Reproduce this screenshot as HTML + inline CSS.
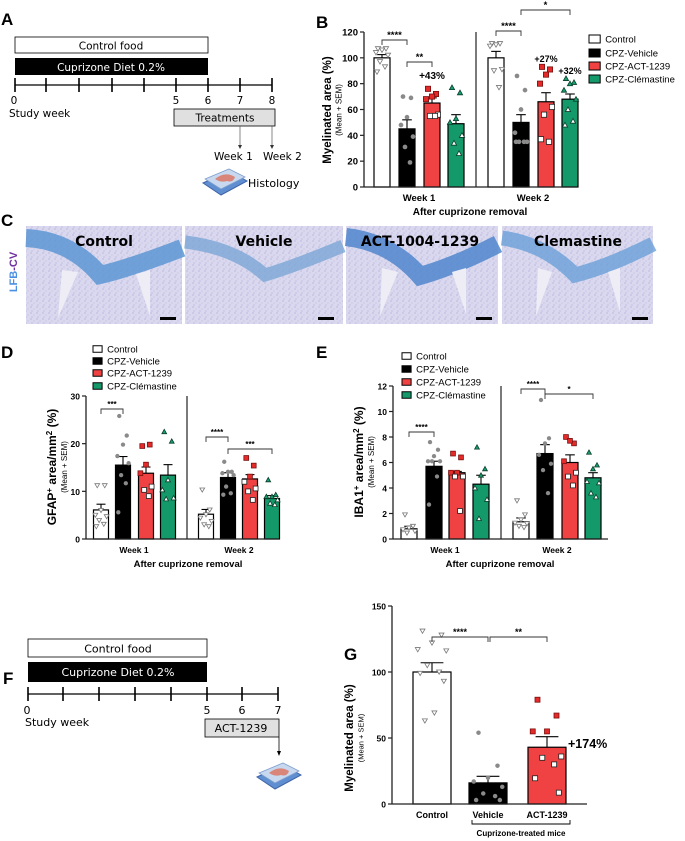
<!DOCTYPE html>
<html><head><meta charset="utf-8"><style>
html,body{margin:0;padding:0;background:#fff}
svg{display:block;font-family:"Liberation Sans",Arial,sans-serif}
.cal{font-family:"DejaVu Sans","Liberation Sans",sans-serif}
</style></head><body>
<svg id="fig" width="685" height="841" viewBox="0 0 685 841" xmlns="http://www.w3.org/2000/svg">
<defs>
<pattern id="tissue" width="6" height="6" patternUnits="userSpaceOnUse">
<rect width="6" height="6" fill="#d9d8ee"/>
<circle cx="1" cy="1" r="0.6" fill="#a9a4d4"/><circle cx="4" cy="3" r="0.5" fill="#b8b3dc"/><circle cx="2" cy="5" r="0.5" fill="#9f9acc"/>
</pattern>
<g id="histo-icon">
<polygon points="0,14 26,2 44,12 18,26" fill="#5f8fd0" stroke="#3f64a8" stroke-width="1"/>
<polygon points="2,10 26,0 42,8 18,20" fill="#c8d8ef" stroke="#7f9fcf" stroke-width="0.8"/>
<path d="M12,10 q10,-8 20,-2 q-2,6 -8,4 q-6,2 -12,-2z" fill="#d9857a"/>
</g>
</defs>

<g font-weight="bold" font-size="17" fill="#000">
<text x="1" y="25">A</text>
<text x="316" y="28">B</text>
<text x="1" y="226">C</text>
<text x="1" y="358">D</text>
<text x="316" y="358">E</text>
<text x="3" y="684">F</text>
<text x="344" y="660">G</text>
</g>

<g class="cal">
<rect x="15" y="37" width="193" height="16" fill="#fff" stroke="#000" stroke-width="0.8"/>
<text x="111" y="49.5" font-size="10.5" text-anchor="middle">Control food</text>
<rect x="15" y="58" width="193" height="17" fill="#000"/>
<text x="111" y="71" font-size="10.5" text-anchor="middle" fill="#fff">Cuprizone Diet 0.2%</text>
<line x1="15" y1="85" x2="272" y2="85" stroke="#000" stroke-width="1.3"/>
<g stroke="#000" stroke-width="1.6">
<line x1="15" y1="78" x2="15" y2="92"/><line x1="46" y1="78" x2="46" y2="92"/><line x1="79" y1="78" x2="79" y2="92"/><line x1="112" y1="78" x2="112" y2="92"/><line x1="144" y1="78" x2="144" y2="92"/><line x1="176" y1="78" x2="176" y2="92"/><line x1="208" y1="78" x2="208" y2="92"/><line x1="240" y1="78" x2="240" y2="92"/><line x1="272" y1="78" x2="272" y2="92"/>
</g>
<g font-size="10.5" text-anchor="middle">
<text x="14" y="104">0</text><text x="176" y="104">5</text><text x="208" y="104">6</text><text x="240" y="104">7</text><text x="272" y="104">8</text>
</g>
<text x="9" y="117" font-size="10.5">Study week</text>
<rect x="174" y="109" width="101" height="17" fill="#e0e0e0" stroke="#000" stroke-width="0.8"/>
<text x="225" y="121.5" font-size="10.5" text-anchor="middle">Treatments</text>
<line x1="240" y1="126" x2="240" y2="146" stroke="#555" stroke-width="0.7"/><polygon points="238,145 242,145 240,149" fill="#333"/>
<line x1="272" y1="126" x2="272" y2="146" stroke="#555" stroke-width="0.7"/><polygon points="270,145 274,145 272,149" fill="#333"/>
<text x="214" y="160" font-size="10.5">Week 1</text><text x="263" y="160" font-size="10.5">Week 2</text>
<use href="#histo-icon" x="203" y="169"/>
<text x="248" y="187" font-size="11">Histology</text>
</g>

<g>
<text transform="translate(17,272) rotate(-90)" font-size="11" font-weight="bold" text-anchor="middle"><tspan fill="#4a90e2">LFB</tspan><tspan fill="#7030a0">-CV</tspan></text>
<g>
<rect x="26" y="226" width="156" height="98" fill="url(#tissue)"/>
<path d="M26,238 Q70,240 100,275 Q130,268 182,248" fill="none" stroke="#5d96d4" stroke-width="18" opacity="0.85"/>
<polygon points="62,270 78,272 58,318" fill="#eeedf6"/><polygon points="136,274 150,270 150,316" fill="#eeedf6"/>
<rect x="160" y="317" width="16" height="3" fill="#000"/>
<text x="104" y="246" font-size="14" font-weight="bold" text-anchor="middle" class="cal">Control</text>
</g>
<g>
<rect x="185" y="226" width="158" height="98" fill="url(#tissue)"/>
<path d="M185,242 Q235,248 265,275 Q295,266 343,246" fill="none" stroke="#7aa6d6" stroke-width="13" opacity="0.8"/>
<rect x="318" y="317" width="16" height="3" fill="#000"/>
<text x="264" y="246" font-size="14" font-weight="bold" text-anchor="middle" class="cal">Vehicle</text>
</g>
<g>
<rect x="346" y="226" width="152" height="98" fill="url(#tissue)"/>
<path d="M346,237 Q390,242 420,276 Q455,266 498,244" fill="none" stroke="#4f86cc" stroke-width="18" opacity="0.85"/>
<polygon points="382,268 398,272 380,316" fill="#eeedf6"/><polygon points="452,272 466,268 466,314" fill="#eeedf6"/>
<rect x="476" y="317" width="16" height="3" fill="#000"/>
<text x="420" y="246" font-size="14" font-weight="bold" text-anchor="middle" class="cal">ACT-1004-1239</text>
</g>
<g>
<rect x="502" y="226" width="151" height="98" fill="url(#tissue)"/>
<path d="M502,238 Q545,244 575,275 Q610,266 653,244" fill="none" stroke="#6aa0d8" stroke-width="15" opacity="0.8"/>
<polygon points="538,268 552,272 536,316" fill="#eeedf6"/><polygon points="608,272 620,268 620,312" fill="#eeedf6"/>
<rect x="632" y="317" width="16" height="3" fill="#000"/>
<text x="578" y="246" font-size="14" font-weight="bold" text-anchor="middle" class="cal">Clemastine</text>
</g>
</g>

<g class="cal">
<rect x="28" y="639" width="179" height="18" fill="#fff" stroke="#000" stroke-width="0.8"/>
<text x="118" y="652.5" font-size="11" text-anchor="middle">Control food</text>
<rect x="28" y="662" width="179" height="20" fill="#000"/>
<text x="118" y="676" font-size="11" text-anchor="middle" fill="#fff">Cuprizone Diet 0.2%</text>
<line x1="28" y1="694" x2="278" y2="694" stroke="#000" stroke-width="1.3"/>
<g stroke="#000" stroke-width="1.6">
<line x1="28" y1="687" x2="28" y2="701"/><line x1="63" y1="687" x2="63" y2="701"/><line x1="99" y1="687" x2="99" y2="701"/><line x1="135" y1="687" x2="135" y2="701"/><line x1="171" y1="687" x2="171" y2="701"/><line x1="207" y1="687" x2="207" y2="701"/><line x1="242" y1="687" x2="242" y2="701"/><line x1="278" y1="687" x2="278" y2="701"/>
</g>
<g font-size="11" text-anchor="middle">
<text x="27" y="714">0</text><text x="207" y="714">5</text><text x="242" y="714">6</text><text x="278" y="714">7</text>
</g>
<text x="25" y="726" font-size="11">Study week</text>
<rect x="205" y="719" width="74" height="18" fill="#e0e0e0" stroke="#000" stroke-width="0.8"/>
<text x="241" y="732" font-size="11" text-anchor="middle">ACT-1239</text>
<line x1="279" y1="737" x2="279" y2="752" stroke="#000" stroke-width="0.8"/><polygon points="277,751 281,751 279,756" fill="#000"/>
<use href="#histo-icon" x="257" y="763"/>
</g>

<g id="charts"></g>
</svg>

<script>
// ===== Panel B data (Myelinated area %) =====
var bGroups = ["W1-Control","W1-Vehicle","W1-ACT","W1-Clem","W2-Control","W2-Vehicle","W2-ACT","W2-Clem"];
var bMeans = [100, 45, 65, 49, 100, 50, 66, 68];
var bErrTop = [102.5, 52, 69, 56, 105, 56, 73, 72];
var bPts0 = [107,107,106,104,102,97,93,89];
var bPts1 = [70,69,54,48,39,31,19];
var bPts2 = [76,72,70,68,56,55,55];
var bPts3 = [77,73,53,50,40,34,26];
var bPts4 = [111,111,110,109,91,90,77];
var bPts5 = [86,75,60,42,35,35,35,35];
var bPts6 = [93,91,87,80,62,56,35,37];
var bPts7 = [84,81,80,75,68,60,51,48];
var bTicks = [0,20,40,60,80,100,120];

// ===== Panel D data (GFAP) =====
var dMeans = [6.1, 15.5, 13.8, 13.4, 5.2, 12.9, 12.6, 8.5];
var dErrTop = [7.3, 17.3, 15.1, 15.6, 6.2, 13.9, 13.5, 9.1];
var dPts0 = [11.2,11.2,6,5,4.7,3.9,3.1,2.6];
var dPts1 = [25.8,21.7,19.8,17.4,15.9,13.4,11.7,5.6];
var dPts2 = [19.5,19.8,15.6,13.8,11,10.3,9];
var dPts3 = [22.5,20.5,12.4,10.3,8.6,8.4];
var dPts4 = [10.3,6.1,5.1,4.4,3.7,3,2.6];
var dPts5 = [16.2,14.1,14.1,13.8,13.4,11,9.6,9.3];
var dPts6 = [17,15.4,13.1,12,10.6,10,8.2];
var dPts7 = [12.4,9.3,8.9,8.9,8.2,7.5,7.2];
var dTicks = [0,10,20,30];

// ===== Panel E data (IBA1) =====
var eMeans = [0.8, 5.7, 5.2, 4.3, 1.35, 6.7, 6.0, 4.8];
var eErrTop = [1.0, 6.1, 5.3, 5.0, 1.65, 7.4, 6.6, 5.2];
var ePts0 = [1.9,1,0.86,0.73,0.6,0.47];
var ePts1 = [7.6,7,6.5,6.1,6.1,6.1,4.9,2.7];
var ePts2 = [6.7,6.4,5.2,5.2,4.9,4.9,2.2];
var ePts3 = [7.2,5.5,5,4,3.1,1.6];
var ePts4 = [3,1.9,1.5,1.25,1.2,1,0.9];
var ePts5 = [10.9,7.9,7.5,6.6,5.9,5.4,3.6];
var ePts6 = [8,7.5,7.7,6.1,5.2,4.9,4.2];
var ePts7 = [6.8,5.8,5.5,4.5,4.4,3.6,3.3];
var eTicks = [0,2,4,6,8,10,12];

// ===== Panel G data =====
var gCategories = ["Control","Vehicle","ACT-1239"];
var gMeans = [100, 16, 43];
var gErrTop = [107, 21, 51];
var gPts0 = [131,128,122,117,116,105,100,99,93,69,63];
var gPts1 = [54,29,20,17,13,8,6,3,3];
var gPts2 = [79,67,55,55,36,35,30,19.5,8.6];
var gTicks = [0,50,100,150];

var NS = "http://www.w3.org/2000/svg";
var root = document.getElementById("charts");
function mk(tag, attrs, parent) {
  var e = document.createElementNS(NS, tag);
  for (var k in attrs) e.setAttribute(k, attrs[k]);
  (parent || root).appendChild(e);
  return e;
}
function txt(x, y, s, size, opts, parent) {
  var a = {x:x, y:y, "font-size":size};
  for (var k in (opts||{})) a[k] = opts[k];
  var t = mk("text", a, parent);
  t.textContent = s;
  return t;
}
var FILLS = ["#ffffff","#000000","#f04242","#13996a"];
var JIT = [-4,4,0,-6,6,-2,3,-5,5,1,-3];

function marker(g, kind, cx, cy, sz, inside) {
  var m;
  if (kind === 0) {
    m = mk("polygon", {points:(cx-sz)+","+(cy-sz*0.8)+" "+(cx+sz)+","+(cy-sz*0.8)+" "+cx+","+(cy+sz*0.9), fill:"#fff", stroke:"#777", "stroke-width":0.8}, g);
  } else if (kind === 1) {
    m = mk("circle", {cx:cx, cy:cy, r:sz*0.9, fill:"#8a8a8a"}, g);
  } else if (kind === 2) {
    m = mk("rect", {x:cx-sz, y:cy-sz, width:sz*2, height:sz*2, fill: inside ? "#fff" : "#e52a2a", stroke: inside ? "#222" : "#7a1010", "stroke-width":0.8}, g);
  } else {
    m = mk("polygon", {points:(cx-sz)+","+(cy+sz*0.8)+" "+(cx+sz)+","+(cy+sz*0.8)+" "+cx+","+(cy-sz*1.0), fill: inside ? "#fff" : "#15a070", stroke:"#0b3d2a", "stroke-width":0.8}, g);
  }
  return m;
}

function panel(cfg) {
  var g = mk("g", {});
  
  
  var y = function(v){ return cfg.y0 - v * (cfg.y0 - cfg.yTop) / cfg.vmax; };
  for (var i = 0; i < cfg.means.length; i++) {
    var cx = cfg.centers[i], ci = cfg.colorIdx[i];
    var by = y(cfg.means[i]);
    var bar = mk("rect", {x:cx-cfg.bw/2, y:by, width:cfg.bw, height:cfg.y0-by, fill:FILLS[ci], stroke:"#000", "stroke-width":1.2}, g);
    
    
    var ey = y(cfg.errTop[i]);
    mk("line", {x1:cx, y1:by, x2:cx, y2:ey, stroke:"#000", "stroke-width":1.1}, g);
    mk("line", {x1:cx-cfg.bw*0.3, y1:ey, x2:cx+cfg.bw*0.3, y2:ey, stroke:"#000", "stroke-width":1.1}, g);
    var pts = cfg.points[i];
    for (var j = 0; j < pts.length; j++) {
      var py = y(pts[j]);
      var pt = marker(g, ci, cx + JIT[j % JIT.length]*cfg.bw/16, py, cfg.ms, pts[j] < cfg.means[i]);
      
      
    }
  }
  var ya = mk("line", {x1:cfg.x0, y1:cfg.yTop, x2:cfg.x0, y2:cfg.y0, stroke:"#222", "stroke-width":1.3}, g);
  
  
  var xa = mk("line", {x1:cfg.x0, y1:cfg.y0, x2:cfg.xEnd, y2:cfg.y0, stroke:"#222", "stroke-width":1.3}, g);
  
  
  for (var t = 0; t < cfg.ticks.length; t++) {
    var ty = y(cfg.ticks[t]);
    mk("line", {x1:cfg.x0-4, y1:ty, x2:cfg.x0, y2:ty, stroke:"#222", "stroke-width":1.2}, g);
    var tl = txt(cfg.x0-6, ty+3.5, String(cfg.ticks[t]), cfg.tickSize, {"text-anchor":"end","font-weight":"bold"}, g);
    
    
  }
  if (cfg.divider) mk("line", {x1:cfg.divider, y1:cfg.yTop, x2:cfg.divider, y2:cfg.y0, stroke:"#222", "stroke-width":1.2}, g);
  return {g:g, y:y};
}
function bracket(g, x1, x2, yy, label, size) {
  var p = mk("path", {d:"M"+x1+","+(yy+5)+" V"+yy+" H"+x2+" V"+(yy+5), fill:"none", stroke:"#333", "stroke-width":0.9}, g);
  
  
  var t = txt((x1+x2)/2, yy-2, label, size, {"text-anchor":"middle","font-weight":"bold"}, g);
  
  
}
function legend(g, x, ys, size, sq) {
  var names = ["Control","CPZ-Vehicle","CPZ-ACT-1239","CPZ-Clémastine"];
  for (var i = 0; i < 4; i++) {
    var r = mk("rect", {x:x, y:ys[i]-sq/2, width:sq*1.4, height:sq, fill:FILLS[i], stroke:"#000", "stroke-width":1}, g);
    
    
    var t = txt(x+sq*1.4+5, ys[i]+size*0.36, names[i], size, {}, g);
    
    
  }
}
function ytitle(g, x, yc, main, sub, mainSize, subSize) {
  var t = mk("text", {transform:"translate("+x+","+yc+") rotate(-90)", "text-anchor":"middle", "font-size":mainSize, "font-weight":"bold"}, g);
  
  
  t.innerHTML = main;
  var s = txt(0, 0, sub, subSize, {transform:"translate("+(x+mainSize*0.9)+","+yc+") rotate(-90)", "text-anchor":"middle"}, g);
  
  
}
var CI = [0,1,2,3,0,1,2,3];

// ---- Panel B ----
var B = panel({name:"panel-b-myelination-chart", means:bMeans, errTop:bErrTop, points:[bPts0,bPts1,bPts2,bPts3,bPts4,bPts5,bPts6,bPts7],
  labels:bGroups, centers:[382,407,432,456,496,521,546,570], colorIdx:CI, bw:16, x0:364, xEnd:577, y0:187, yTop:32, vmax:120,
  ticks:bTicks, tickSize:9.5, ms:2.6, divider:476});
bracket(B.g, 382, 407, 40, "****", 9.5);
bracket(B.g, 407, 432, 62, "**", 9.5);
bracket(B.g, 521, 570, 10, "*", 9.5);
bracket(B.g, 496, 521, 31, "****", 9.5);
txt(432, 79, "+43%", 10, {"text-anchor":"middle","font-weight":"bold"}, B.g);
txt(546, 62, "+27%", 9, {"text-anchor":"middle","font-weight":"bold"}, B.g);
txt(570, 74, "+32%", 9, {"text-anchor":"middle","font-weight":"bold"}, B.g);
legend(B.g, 589, [39,53,66,79], 9.5, 8);
ytitle(B.g, 331, 110, "Myelinated area (%)", "(Mean + SEM)", 11.5, 8);
txt(419, 201, "Week 1", 9.5, {"text-anchor":"middle","font-weight":"bold"}, B.g);
txt(533, 201, "Week 2", 9.5, {"text-anchor":"middle","font-weight":"bold"}, B.g);
txt(470, 215, "After cuprizone removal", 10, {"text-anchor":"middle","font-weight":"bold"}, B.g);

// ---- Panel D ----
var D = panel({name:"panel-d-gfap-chart", means:dMeans, errTop:dErrTop, points:[dPts0,dPts1,dPts2,dPts3,dPts4,dPts5,dPts6,dPts7],
  labels:bGroups, centers:[101,123,146,168,206,228,250,272], colorIdx:CI, bw:15, x0:86, xEnd:279, y0:539, yTop:396, vmax:30,
  ticks:dTicks, tickSize:8.5, ms:2.4, divider:187});
bracket(D.g, 101, 123, 409, "***", 8);
bracket(D.g, 206, 228, 437, "****", 8);
bracket(D.g, 228, 272, 449, "***", 8);
legend(D.g, 93, [349,361,373,386], 9.5, 6.5);
ytitle(D.g, 56, 467, "GFAP<tspan dy='-4' font-size='8'>+</tspan><tspan dy='4'> area/mm</tspan><tspan dy='-4' font-size='8'>2</tspan><tspan dy='4'> (%)</tspan>", "(Mean + SEM)", 12, 8);
txt(134, 553, "Week 1", 8.5, {"text-anchor":"middle","font-weight":"bold"}, D.g);
txt(239, 553, "Week 2", 8.5, {"text-anchor":"middle","font-weight":"bold"}, D.g);
txt(188, 567, "After cuprizone removal", 9.5, {"text-anchor":"middle","font-weight":"bold"}, D.g);

// ---- Panel E ----
var E = panel({name:"panel-e-iba1-chart", means:eMeans, errTop:eErrTop, points:[ePts0,ePts1,ePts2,ePts3,ePts4,ePts5,ePts6,ePts7],
  labels:bGroups, centers:[409,434,457,481,521,545,570,593], colorIdx:CI, bw:16, x0:393, xEnd:608, y0:539, yTop:386, vmax:12,
  ticks:eTicks, tickSize:8.5, ms:2.4, divider:501});
bracket(E.g, 409, 434, 432, "****", 8);
bracket(E.g, 521, 545, 389, "****", 8);
bracket(E.g, 545, 593, 394, "*", 8);
legend(E.g, 402, [356,369,382,395], 9.5, 6.5);
ytitle(E.g, 363, 462, "IBA1<tspan dy='-4' font-size='8'>+</tspan><tspan dy='4'> area/mm</tspan><tspan dy='-4' font-size='8'>2</tspan><tspan dy='4'> (%)</tspan>", "(Mean + SEM)", 12, 8);
txt(445, 553, "Week 1", 8.5, {"text-anchor":"middle","font-weight":"bold"}, E.g);
txt(557, 553, "Week 2", 8.5, {"text-anchor":"middle","font-weight":"bold"}, E.g);
txt(500, 567, "After cuprizone removal", 9.5, {"text-anchor":"middle","font-weight":"bold"}, E.g);

// ---- Panel G ----
var G = panel({name:"panel-g-myelination-chart", means:gMeans, errTop:gErrTop, points:[gPts0,gPts1,gPts2],
  labels:gCategories, centers:[432,488,547], colorIdx:[0,1,2], bw:38, x0:392, xEnd:587, y0:804, yTop:606, vmax:150,
  ticks:gTicks, tickSize:8.5, ms:2.5, divider:0});
bracket(G.g, 432, 488, 637, "****", 9);
bracket(G.g, 490, 547, 637, "**", 9);
txt(568, 748, "+174%", 12.5, {"font-weight":"bold"}, G.g);
ytitle(G.g, 353, 738, "Myelinated area (%)", "(Mean + SEM)", 11.5, 7.5);
for (var c = 0; c < gCategories.length; c++) {
  var xl = txt([432,488,547][c], 818, gCategories[c], 9, {"text-anchor":"middle","font-weight":"bold"}, G.g);
  
  
}
mk("path", {d:"M472,820 V824 H570 V820", fill:"none", stroke:"#000", "stroke-width":0.9}, G.g);
txt(521, 836, "Cuprizone-treated mice", 8, {"text-anchor":"middle","font-weight":"bold"}, G.g);
</script>
</body></html>
